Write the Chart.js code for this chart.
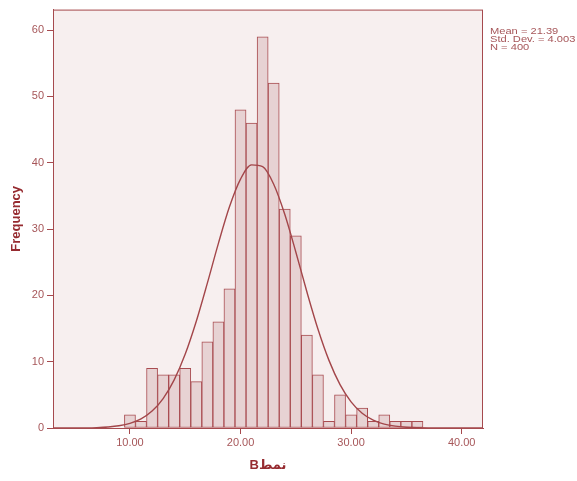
<!DOCTYPE html>
<html>
<head>
<meta charset="utf-8">
<script src="https://cdn.jsdelivr.net/npm/chart.js@4.4.1/dist/chart.umd.min.js"></script>
<style>
	body { margin: 0; background: #ffffff; }
	#wrap { width: 577px; height: 481px; }
</style>
</head>
<body>
<div id="wrap"><canvas id="histo" width="577" height="481"></canvas></div>
<script>
// bin centres (bin width 1) and frequencies
const binCentres = [10, 11, 12, 13, 14, 15, 16, 17, 18, 19, 20, 21, 22, 23, 24, 25, 26, 27, 28, 29, 30, 31, 32, 33, 34, 35, 36];
const frequencies = [2, 1, 9, 8, 8, 9, 7, 13, 16, 21, 48, 46, 59, 52, 33, 29, 14, 8, 1, 5, 2, 3, 1, 2, 1, 1, 1];

// normal curve heights
const curveX = [3, 4, 5, 6, 7, 8, 9, 10, 11, 12, 13, 14, 15, 16, 17, 18, 19, 20, 21, 22, 23, 24, 25, 26, 27, 28, 29, 30, 31, 32, 33, 34, 35, 36, 37, 38, 39, 40, 41, 42];
const curveY = [0, 0, 0.01, 0.02, 0.06, 0.15, 0.33, 0.7, 1.37, 2.55, 4.44, 7.26, 11.15, 16.1, 21.85, 27.85, 33.36, 37.54, 39.68, 39.41, 36.77, 32.24, 26.55, 20.54, 14.93, 10.2, 6.55, 3.95, 2.23, 1.19, 0.59, 0.28, 0.12, 0.05, 0.02, 0.01, 0, 0, 0, 0];

const xTicks = [10, 20, 30, 40];
const yTicks = [0, 10, 20, 30, 40, 50, 60];
const statsLines = ["Mean = 21.39", "Std. Dev. = 4.003", "N = 400"];
const xTitle = "Bنمط";
const yTitle = "Frequency";

const dark = "#a64a4e";
const tickText = "#a65659";
const titleRed = "#962b30";
const fontFam = "'Liberation Sans', Arial, 'DejaVu Sans', sans-serif";

const framePlugin = {
	id: "frame",
	beforeDraw(chart)
	{
		const a = chart.chartArea;
		const ctx = chart.ctx;
		ctx.save();
		ctx.fillStyle = "#f7efef";
		ctx.fillRect(a.left, a.top, a.right - a.left, a.bottom - a.top);
		ctx.restore();
	},
	afterDraw(chart)
	{
		const a = chart.chartArea;
		const ctx = chart.ctx;
		ctx.save();
		ctx.strokeStyle = dark;
		ctx.lineWidth = 1;
		ctx.strokeRect(a.left + 0.5, a.top + 0.5, a.right - a.left - 1, a.bottom - a.top);
		// the stats block looks slightly stretched sideways in the original
		ctx.translate(a.right + 7, 0);
		ctx.scale(1.17, 1);
		ctx.fillStyle = tickText;
		ctx.font = "9.5px " + fontFam;
		ctx.textBaseline = "middle";
		for(let i = 0; i < statsLines.length; i++)
			ctx.fillText(statsLines[i], 0, 31 + i * 8);
		ctx.restore();
	}
};

new Chart(document.getElementById("histo").getContext("2d"),
{
	type: "bar",
	data:
	{
		datasets:
		[{
			type: "line",
			data: curveX.map((x, i) => ({ x: x, y: curveY[i] })),
			borderColor: "#a3464a",
			borderWidth: 1.4,
			pointRadius: 0,
			cubicInterpolationMode: "monotone",
			fill: false,
			order: 0
		},
		{
			type: "bar",
			data: binCentres.map((x, i) => ({ x: x, y: frequencies[i] })),
			backgroundColor: "#e7d2d3",
			borderColor: "#a94c51",
			borderWidth: 1,
			borderSkipped: false,
			barPercentage: 1,
			categoryPercentage: 1,
			order: 1
		}]
	},
	options:
	{
		responsive: false,
		animation: false,
		layout: { padding: { top: 4, right: 94, left: 0, bottom: 0 } },
		plugins: { legend: { display: false }, tooltip: { enabled: false } },
		scales:
		{
			x:
			{
				type: "linear",
				offset: false,
				min: 3.04,
				max: 41.93,
				afterBuildTicks: (scale) => { scale.ticks = xTicks.map(v => ({ value: v })); },
				afterFit: (scale) => { scale.height = 53; },
				grid: { drawOnChartArea: false, drawTicks: true, tickLength: 6, tickColor: dark, offset: false },
				border: { display: true, color: dark, width: 1 },
				ticks:
				{
					color: tickText,
					padding: 2,
					maxRotation: 0,
					font: { family: fontFam, size: 11 },
					callback: (v) => Number(v).toFixed(2)
				},
				title:
				{
					display: true,
					text: xTitle,
					color: titleRed,
					padding: { top: 4, bottom: 8 },
					font: { family: fontFam, size: 13, weight: "bold" }
				}
			},
			y:
			{
				min: 0,
				max: 63.1,
				afterBuildTicks: (scale) => { scale.ticks = yTicks.map(v => ({ value: v })); },
				afterFit: (scale) => { scale.width = 53; },
				grid: { drawOnChartArea: false, drawTicks: true, tickLength: 6, tickColor: dark },
				border: { display: true, color: dark, width: 1 },
				ticks:
				{
					color: tickText,
					padding: 3,
					font: { family: fontFam, size: 11 }
				},
				title:
				{
					display: true,
					text: yTitle,
					color: titleRed,
					padding: { top: 9, bottom: 0 },
					font: { family: fontFam, size: 13, weight: "bold" }
				}
			}
		}
	},
	plugins: [framePlugin]
});
</script>
</body>
</html>
